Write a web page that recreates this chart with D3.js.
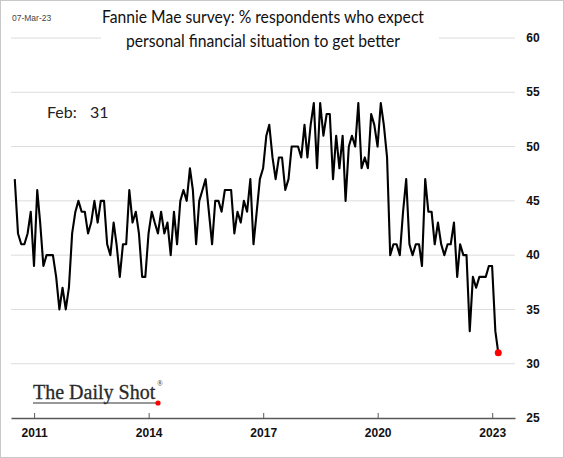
<!DOCTYPE html>
<html>
<head>
<meta charset="utf-8">
<script src="https://cdn.jsdelivr.net/npm/d3@7"></script>
<style>
  html, body { margin: 0; padding: 0; background: #fff; }
  svg { display: block; }
</style>
</head>
<body>
<svg id="chart" width="564" height="458"></svg>
<script>
// ---- Data (monthly, Jun 2010 – Feb 2023) ----
const startMonth = "2010-06";
const values = [
  // 2010 Jun–Dec
  47, 42, 41, 41, 42, 44, 39,
  // 2011
  46, 43, 39, 40, 40, 40, 38, 35, 37, 35, 37, 42,
  // 2012
  44, 45, 44, 44, 42, 43, 45, 43, 45, 45, 41, 40,
  // 2013
  43, 41, 38, 41, 41, 46, 43, 44, 42, 38, 38, 42,
  // 2014
  44, 43, 42, 44, 42, 43, 40, 44, 41, 45, 46, 45,
  // 2015
  48, 46, 41, 45, 46, 47, 44, 41, 45, 45, 44, 46,
  // 2016
  46, 46, 42, 44, 43, 45, 44, 47, 41, 44, 47, 48,
  // 2017
  51, 52, 49, 47, 49, 49, 46, 47, 50, 50, 50, 49,
  // 2018
  52, 49, 52, 54, 48, 54, 51, 53, 53, 47, 51, 48,
  // 2019
  51, 45, 50, 51, 50, 54, 48, 49, 48, 53, 52, 50,
  // 2020
  54, 52, 49, 40, 41, 41, 40, 44, 47, 41, 40, 41,
  // 2021
  41, 39, 47, 44, 44, 41, 43, 41, 40, 41, 41, 43,
  // 2022
  38, 41, 40, 40, 33, 38, 37, 38, 38, 38, 39, 39,
  // 2023 Jan–Feb
  33, 31
];
const yTicks = [25, 30, 35, 40, 45, 50, 55, 60];
const xTickYears = [2011, 2014, 2017, 2020, 2023];
const titleLines = ["Fannie Mae survey: % respondents who expect",
                    "personal financial situation to get better"];
const dateStamp = "07-Mar-23";
const lastLabel = "Feb:";
const lastValueText = "31";

// ---- Build dated series (month-end dates) ----
const [sy, sm] = startMonth.split("-").map(Number);
const series = values.map((v, i) => ({
  date: new Date(sy, sm - 1 + i + 1, 0),
  value: v
}));

const svg = d3.select("#chart");
const W = 564, H = 458;

// border
svg.append("rect").attr("x", 0.5).attr("y", 0.5).attr("width", W - 1).attr("height", H - 1)
  .attr("fill", "#fff").attr("stroke", "#c8c8c8");

const plotLeft = 11, plotRight = 515;
const x = d3.scaleTime()
  .domain([new Date(2010, 4, 25), new Date(2023, 7, 7)])
  .range([plotLeft, plotRight]);
const y = d3.scaleLinear().domain([25, 60]).range([418, 38]);

// gridlines
svg.append("g").selectAll("line").data(yTicks.filter(t => t > 25)).join("line")
  .attr("x1", plotLeft).attr("x2", plotRight)
  .attr("y1", d => y(d)).attr("y2", d => y(d))
  .attr("stroke", "#dcdcdc").attr("stroke-width", 1);

// y labels (right)
svg.append("g").selectAll("text").data(yTicks).join("text")
  .attr("x", 533).attr("y", d => y(d)).attr("dy", "0.35em")
  .attr("text-anchor", "middle")
  .attr("font-family", "'Liberation Sans', Arial, sans-serif")
  .attr("font-size", 12).attr("font-weight", "bold").attr("fill", "#111")
  .text(d => d);

// x axis
const xAxis = d3.axisTop(x)
  .tickValues(xTickYears.map(yr => new Date(yr, 0, 1)))
  .tickFormat(d3.timeFormat("%Y"))
  .tickSize(5).tickSizeOuter(0);
const gx = svg.append("g").attr("transform", `translate(0,${y(25)})`).call(xAxis);
gx.select(".domain").attr("stroke", "#595959").attr("stroke-width", 1.3);
gx.selectAll(".tick line").attr("stroke", "#595959");
gx.selectAll(".tick text")
  .attr("y", 15).attr("dy", "0.35em")
  .attr("font-family", "'Liberation Sans', Arial, sans-serif")
  .attr("font-size", 12).attr("font-weight", "bold").attr("fill", "#111");

// title (with white box interrupting the top gridline)
svg.append("rect").attr("x", 101).attr("y", 4).attr("width", 338).attr("height", 48).attr("fill", "#fff");
const titleWidths = [322, 274];
svg.append("g").selectAll("text").data(titleLines).join("text")
  .attr("x", 263).attr("y", (d, i) => 23 + i * 24)
  .attr("text-anchor", "middle")
  .attr("font-family", "Lato, 'Open Sans', sans-serif")
  .attr("font-size", 17.5).attr("fill", "#111")
  .attr("textLength", (d, i) => titleWidths[i])
  .attr("lengthAdjust", "spacingAndGlyphs")
  .text(d => d);

// date stamp
svg.append("text").attr("x", 12).attr("y", 21)
  .attr("font-family", "'Liberation Sans', Arial, sans-serif")
  .attr("font-size", 8.5).attr("fill", "#444").text(dateStamp);

// last value annotation
svg.append("text").attr("x", 47).attr("y", 118)
  .attr("font-family", "Lato, 'Open Sans', sans-serif")
  .attr("font-size", 16).attr("fill", "#222").text(lastLabel);
svg.append("text").attr("x", 90).attr("y", 118)
  .attr("font-family", "Lato, 'Open Sans', sans-serif")
  .attr("font-size", 16).attr("fill", "#222").text(lastValueText);

// line
const line = d3.line().x(d => x(d.date)).y(d => y(d.value));
svg.append("path").datum(series)
  .attr("d", line).attr("fill", "none")
  .attr("stroke", "#000").attr("stroke-width", 2.1).attr("stroke-linejoin", "round");

// last point
const last = series[series.length - 1];
svg.append("circle").attr("cx", x(last.date)).attr("cy", y(last.value)).attr("r", 3.5).attr("fill", "#ff0000");

// watermark
const wm = svg.append("g");
wm.append("text").attr("x", 33).attr("y", 399)
  .attr("font-family", "'Liberation Serif', 'DejaVu Serif', serif")
  .attr("fill", "#2a2a2a")
  .attr("font-size", 20)
  .attr("stroke", "#2a2a2a").attr("stroke-width", 0.3)
  .text("The Daily Shot");
wm.append("text").attr("x", 157).attr("y", 386)
  .attr("font-family", "'Liberation Serif', 'DejaVu Serif', serif")
  .attr("font-size", 7.5).attr("fill", "#2a2a2a")
  .text("®");
wm.append("line").attr("x1", 33).attr("x2", 158).attr("y1", 403).attr("y2", 403)
  .attr("stroke", "#333").attr("stroke-width", 1);
wm.append("circle").attr("cx", 158).attr("cy", 403).attr("r", 2.6).attr("fill", "#ff0000");
</script>
</body>
</html>
